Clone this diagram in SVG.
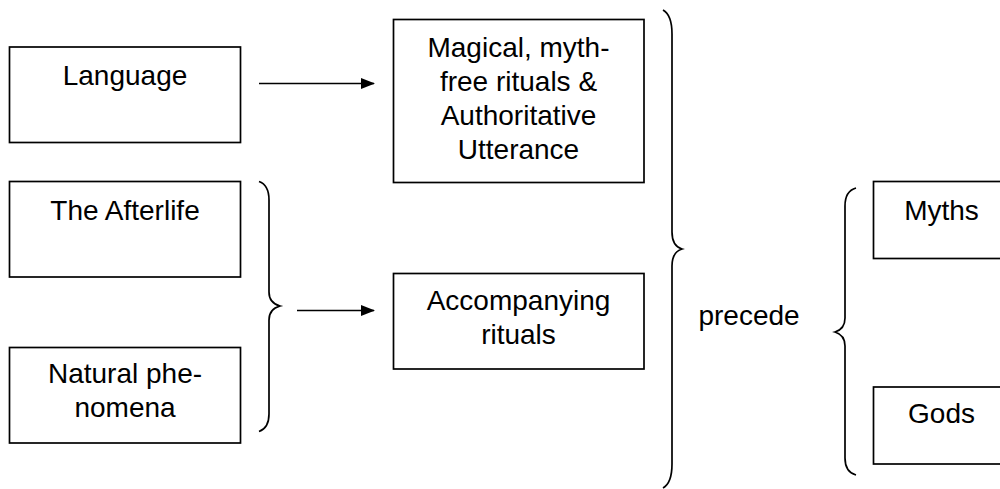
<svg xmlns="http://www.w3.org/2000/svg" width="1000" height="489" viewBox="0 0 1000 489">
  <style>
    .box { fill: #ffffff; stroke: #000000; stroke-width: 1.7; }
    .lbl { font-family: "Liberation Sans", Arial, sans-serif; font-size: 28px; fill: #000000; text-anchor: middle; }
    .brace { fill: none; stroke: #000000; stroke-width: 1.7; }
    .arrow { fill: none; stroke: #000000; stroke-width: 1.7; marker-end: url(#head); }
  </style>
  <defs>
    <marker id="head" markerWidth="14" markerHeight="12" refX="13" refY="6" orient="auto" markerUnits="userSpaceOnUse">
      <path d="M0,0.5 L14,6 L0,11.5 Z" fill="#000000"/>
    </marker>
  </defs>
  <rect width="1000" height="489" fill="#ffffff"/>

  <g id="language">
    <rect class="box" x="9.5" y="47" width="231" height="95.5"/>
    <text class="lbl" x="125" y="85">Language</text>
  </g>

  <g id="afterlife">
    <rect class="box" x="9.5" y="181.5" width="231" height="95.5"/>
    <text class="lbl" x="125" y="220">The Afterlife</text>
  </g>

  <g id="natural">
    <rect class="box" x="9.5" y="347.5" width="231" height="95.5"/>
    <text class="lbl" x="125" y="383">Natural phe-</text>
    <text class="lbl" x="125" y="417">nomena</text>
  </g>

  <g id="magical">
    <rect class="box" x="393.5" y="19.5" width="250.5" height="163"/>
    <text class="lbl" x="518.5" y="56.5">Magical, myth-</text>
    <text class="lbl" x="518.5" y="90.5">free rituals &amp;</text>
    <text class="lbl" x="518.5" y="124.5">Authoritative</text>
    <text class="lbl" x="518.5" y="158.5">Utterance</text>
  </g>

  <g id="accompanying">
    <rect class="box" x="393.5" y="273.5" width="250.5" height="95.5"/>
    <text class="lbl" x="518.5" y="310">Accompanying</text>
    <text class="lbl" x="518.5" y="344">rituals</text>
  </g>

  <g id="precede">
    <text class="lbl" x="749" y="325">precede</text>
  </g>

  <g id="myths">
    <rect class="box" x="873.5" y="181.5" width="136" height="77"/>
    <text class="lbl" x="941.5" y="220">Myths</text>
  </g>

  <g id="gods">
    <rect class="box" x="873.5" y="387" width="136" height="77"/>
    <text class="lbl" x="941.5" y="423">Gods</text>
  </g>

  <g id="connectors">
    <!-- arrows -->
    <path class="arrow" d="M259,83.5 L374,83.5"/>
    <path class="arrow" d="M297,310.5 L374,310.5"/>
    <!-- brace joining The Afterlife and Natural phenomena -->
    <path class="brace" d="M259,181.5 Q269,185 269,200 L269,292 Q269,303 280,306 Q269,309 269,320 L269,414 Q269,428 259,431.5"/>
    <!-- large brace round the two ritual boxes -->
    <path class="brace" d="M663,10 Q672,15 672,34 L672,232 Q672,246 682,249 Q672,252 672,266 L672,464 Q672,483 663,488"/>
    <!-- brace opening towards Myths and Gods -->
    <path class="brace" d="M856,188 Q845,191 845,206 L845,318 Q845,329 835,332 Q845,335 845,346 L845,458 Q845,472 856,475"/>
  </g>
</svg>
